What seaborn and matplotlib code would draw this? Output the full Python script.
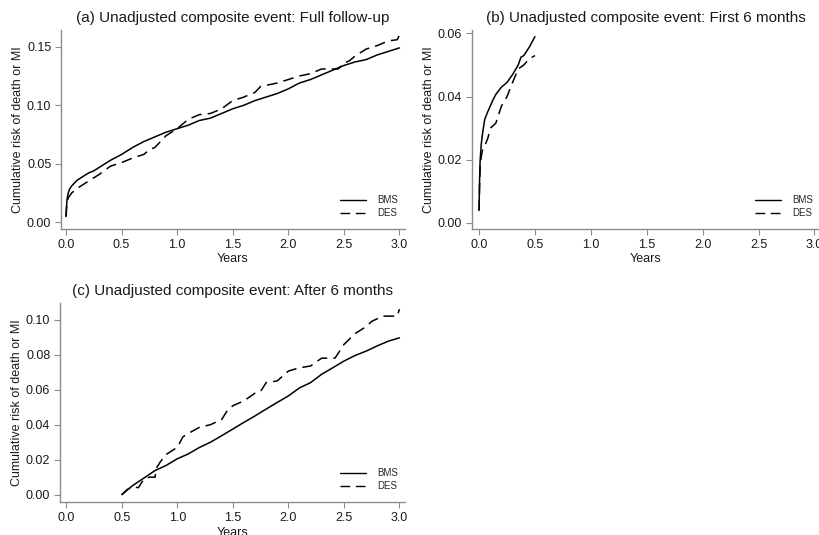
import numpy as np
import pandas as pd
import matplotlib
matplotlib.use("Agg")
import matplotlib.pyplot as plt
import seaborn as sns

# ---------------- data ----------------
# (a) Full follow-up
a_bms_t = [0.0, 0.005, 0.01, 0.02, 0.03, 0.05, 0.08, 0.1, 0.15, 0.2, 0.25, 0.3, 0.35, 0.4, 0.5, 0.6, 0.7,
           0.8, 0.9, 1.0, 1.1, 1.2, 1.3, 1.4, 1.5, 1.6, 1.7, 1.8, 1.9, 2.0, 2.1, 2.2, 2.3, 2.4, 2.5,
           2.6, 2.7, 2.8, 2.9, 3.0]
a_bms_y = [0.005, 0.014, 0.020, 0.025, 0.028, 0.031, 0.034, 0.036, 0.039, 0.042, 0.044, 0.047, 0.050, 0.053,
           0.058, 0.064, 0.069, 0.073, 0.077, 0.080, 0.083, 0.087, 0.089, 0.093, 0.097, 0.100, 0.104,
           0.107, 0.110, 0.114, 0.119, 0.122, 0.126, 0.130, 0.134, 0.137, 0.139, 0.143, 0.146, 0.149]
a_des_t = [0.0, 0.005, 0.01, 0.02, 0.05, 0.1, 0.15, 0.2, 0.3, 0.4, 0.5, 0.6, 0.7, 0.75, 0.8, 0.85, 0.9,
           1.0, 1.1, 1.2, 1.3, 1.35, 1.4, 1.5, 1.6, 1.7, 1.75, 1.8, 1.9, 2.0, 2.1, 2.2, 2.3, 2.45,
           2.5, 2.55, 2.6, 2.7, 2.8, 2.9, 2.98, 3.0]
a_des_y = [0.005, 0.012, 0.016, 0.021, 0.025, 0.029, 0.032, 0.035, 0.041, 0.048, 0.051, 0.055, 0.058, 0.062,
           0.064, 0.069, 0.074, 0.080, 0.088, 0.092, 0.093, 0.095, 0.097, 0.104, 0.107, 0.111, 0.116,
           0.117, 0.119, 0.122, 0.125, 0.127, 0.131, 0.131, 0.136, 0.138, 0.142, 0.148, 0.151, 0.155,
           0.156, 0.160]

# (b) First 6 months
b_bms_t = [0.0, 0.005, 0.01, 0.02, 0.03, 0.05, 0.075, 0.1, 0.125, 0.15, 0.2, 0.25, 0.3, 0.35, 0.375,
           0.4, 0.45, 0.5]
b_bms_y = [0.004, 0.014, 0.020, 0.025, 0.028, 0.0327, 0.035, 0.037, 0.039, 0.0407, 0.043, 0.0445, 0.047,
           0.050, 0.0525, 0.053, 0.0557, 0.059]
b_des_t = [0.0, 0.005, 0.01, 0.02, 0.03, 0.05, 0.08, 0.1, 0.15, 0.2, 0.25, 0.3, 0.33, 0.35, 0.4, 0.45, 0.5]
b_des_y = [0.004, 0.012, 0.018, 0.021, 0.023, 0.0243, 0.027, 0.030, 0.0316, 0.037, 0.040, 0.0445, 0.047,
           0.0488, 0.050, 0.052, 0.053]

# (c) After 6 months
c_bms_t = [0.5, 0.6, 0.7, 0.8, 0.9, 1.0, 1.1, 1.2, 1.3, 1.4, 1.5, 1.6, 1.7, 1.8, 1.9, 2.0, 2.1, 2.2,
           2.3, 2.4, 2.5, 2.6, 2.7, 2.8, 2.9, 3.0]
c_bms_y = [0.0, 0.0053, 0.0095, 0.0138, 0.0167, 0.0205, 0.0233, 0.027, 0.030, 0.0337, 0.0375, 0.0413,
           0.045, 0.0489, 0.0527, 0.0564, 0.061, 0.064, 0.0688, 0.0725, 0.0763, 0.0795, 0.082, 0.085,
           0.0877, 0.0896]
c_des_t = [0.5, 0.55, 0.6, 0.65, 0.7, 0.75, 0.8, 0.81, 0.85, 0.9, 1.0, 1.05, 1.1, 1.2, 1.3, 1.4, 1.45,
           1.5, 1.6, 1.7, 1.75, 1.8, 1.9, 2.0, 2.1, 2.2, 2.3, 2.42, 2.5, 2.6, 2.7, 2.75, 2.85, 2.98, 3.0]
c_des_y = [0.0, 0.003, 0.0044, 0.004, 0.009, 0.010, 0.010, 0.015, 0.019, 0.023, 0.027, 0.033, 0.035,
           0.0385, 0.040, 0.043, 0.048, 0.0508, 0.0536, 0.058, 0.059, 0.064, 0.065, 0.0706, 0.0725,
           0.0735, 0.078, 0.078, 0.0858, 0.092, 0.096, 0.099, 0.102, 0.102, 0.106]

titles = ["(a) Unadjusted composite event: Full follow-up",
          "(b) Unadjusted composite event: First 6 months",
          "(c) Unadjusted composite event: After 6 months"]
groups = ["BMS", "DES"]
x_ticks = [0.0, 0.5, 1.0, 1.5, 2.0, 2.5, 3.0]
y_ticks_a = [0.00, 0.05, 0.10, 0.15]
y_ticks_b = [0.00, 0.02, 0.04, 0.06]
y_ticks_c = [0.00, 0.02, 0.04, 0.06, 0.08, 0.10]

# ---------------- style ----------------
sns.set_style("white")
plt.rcParams["font.family"] = ["Liberation Sans", "DejaVu Sans"]

W, H = 819, 535
fig = plt.figure(figsize=(W / 100, H / 100), dpi=100)


def make_ax(left, right, top, bottom):
    return fig.add_axes([left / W, 1 - bottom / H, (right - left) / W, (bottom - top) / H])


def frame(t_bms, y_bms, t_des, y_des):
    return pd.concat([
        pd.DataFrame({"t": t_bms, "risk": y_bms, "group": groups[0]}),
        pd.DataFrame({"t": t_des, "risk": y_des, "group": groups[1]}),
    ], ignore_index=True)


panels = [
    (make_ax(61, 405, 30, 229), frame(a_bms_t, a_bms_y, a_des_t, a_des_y), titles[0],
     y_ticks_a, (-0.045, 3.05), (-0.0057, 0.1643)),
    (make_ax(472, 820, 30, 229), frame(b_bms_t, b_bms_y, b_des_t, b_des_y), titles[1],
     y_ticks_b, (-0.063, 3.05), (-0.0019, 0.0611)),
    (make_ax(60, 405, 303, 502), frame(c_bms_t, c_bms_y, c_des_t, c_des_y), titles[2],
     y_ticks_c, (-0.056, 3.05), (-0.0042, 0.1095)),
]

spine_col = "#8c8c8c"
for ax, df, title, yt, xl, yl in panels:
    sns.lineplot(data=df, x="t", y="risk", style="group", color="black",
                 dashes={"BMS": "", "DES": (7, 4)}, estimator=None, errorbar=None,
                 linewidth=1.1, ax=ax)
    ax.set_xlim(*xl)
    ax.set_ylim(*yl)
    ax.set_xticks(x_ticks)
    ax.set_xticklabels([f"{v:.1f}" for v in x_ticks])
    ax.set_yticks(yt)
    ax.set_yticklabels([f"{v:.2f}" for v in yt])
    for s in ["top", "right"]:
        ax.spines[s].set_visible(False)
    for s in ["left", "bottom"]:
        ax.spines[s].set_color(spine_col)
        ax.spines[s].set_linewidth(1.0)
    ax.tick_params(axis="both", which="both", direction="out", length=4, width=0.8,
                   color=spine_col, labelsize=9, labelcolor="#1a1a1a", pad=3,
                   bottom=True, left=True)
    ax.set_xlabel("Years", fontsize=9, color="#1a1a1a", labelpad=2)
    ax.set_ylabel("Cumulative risk of death or MI", fontsize=9, color="#1a1a1a", labelpad=2)
    ax.set_title(title, fontsize=11, color="#1a1a1a", pad=6)
    leg = ax.legend(loc="lower right", frameon=False, fontsize=7, handlelength=2.6,
                    handletextpad=1.2, labelspacing=0.3, borderaxespad=0.3,
                    bbox_to_anchor=(1.0, 0.02))
    for line in leg.get_lines():
        line.set_linewidth(1.0)
    ax.grid(False)

fig.savefig("out.png", dpi=100)
